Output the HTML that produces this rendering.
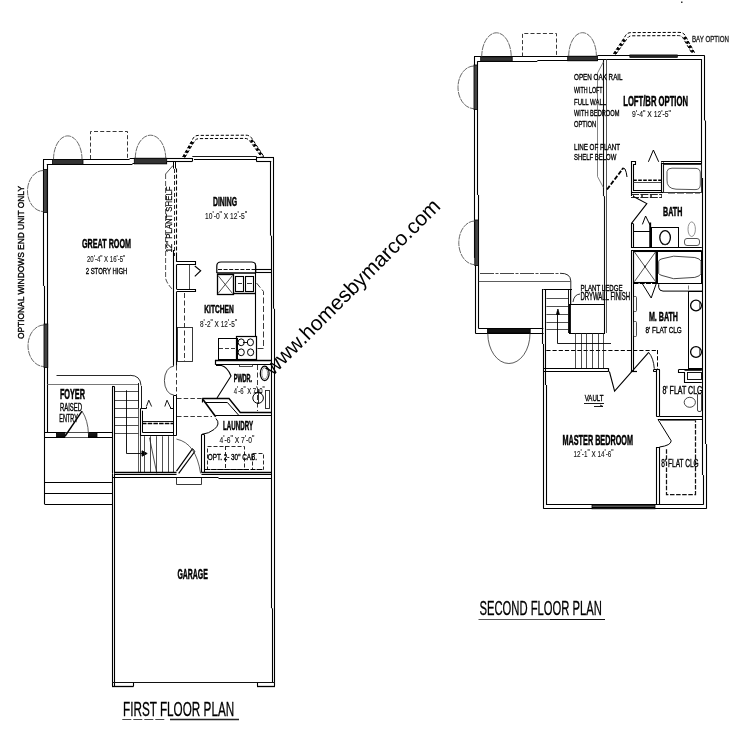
<!DOCTYPE html>
<html><head><meta charset="utf-8"><title>Floor Plan</title>
<style>
html,body{margin:0;padding:0;background:#fff;}
svg{display:block;font-family:"Liberation Sans",sans-serif;will-change:transform;-webkit-font-smoothing:antialiased;}
</style></head><body>
<svg width="754" height="754" viewBox="0 0 754 754">
<rect x="0" y="0" width="754" height="754" fill="#fff"/>
<line x1="43.00" y1="159.50" x2="129.59" y2="159.50" stroke="#000" stroke-width="1.1" />
<line x1="129.59" y1="158.50" x2="166.70" y2="158.50" stroke="#000" stroke-width="1.1" />
<line x1="46.80" y1="164.50" x2="132.44" y2="164.50" stroke="#000" stroke-width="1.1" />
<line x1="132.44" y1="163.50" x2="166.70" y2="163.50" stroke="#000" stroke-width="1.1" />
<line x1="166.70" y1="158.50" x2="192.30" y2="158.50" stroke="#000" stroke-width="1.1" />
<line x1="166.50" y1="163.80" x2="166.50" y2="161.80" stroke="#000" stroke-width="1.0" />
<line x1="166.70" y1="161.50" x2="192.30" y2="161.50" stroke="#000" stroke-width="1.1" />
<line x1="192.50" y1="158.00" x2="192.50" y2="161.50" stroke="#000" stroke-width="1.1" />
<line x1="192.30" y1="156.50" x2="256.20" y2="156.50" stroke="#000" stroke-width="0.9" />
<line x1="194.00" y1="159.50" x2="256.20" y2="159.50" stroke="#000" stroke-width="1.0" />
<line x1="256.50" y1="156.40" x2="256.50" y2="161.10" stroke="#000" stroke-width="1.1" />
<line x1="256.20" y1="157.50" x2="274.00" y2="157.50" stroke="#000" stroke-width="1.1" />
<line x1="256.20" y1="161.50" x2="271.20" y2="161.50" stroke="#000" stroke-width="1.1" />
<line x1="43.50" y1="159.70" x2="43.50" y2="285.93" stroke="#000" stroke-width="1.1" />
<line x1="44.50" y1="285.93" x2="44.50" y2="437.40" stroke="#000" stroke-width="1.1" />
<line x1="47.50" y1="164.50" x2="47.50" y2="432.50" stroke="#000" stroke-width="1.1" />
<line x1="273.50" y1="157.60" x2="273.50" y2="308.71" stroke="#000" stroke-width="1.1" />
<line x1="274.50" y1="308.71" x2="274.50" y2="686.50" stroke="#000" stroke-width="1.1" />
<line x1="270.50" y1="161.10" x2="270.50" y2="235.63" stroke="#000" stroke-width="1.1" />
<line x1="271.50" y1="235.63" x2="271.50" y2="608.27" stroke="#000" stroke-width="1.1" />
<line x1="272.50" y1="608.27" x2="272.50" y2="682.80" stroke="#000" stroke-width="1.1" />
<rect x="52.5" y="159.4" width="30.5" height="4.900000000000006" rx="0" stroke="#000" stroke-width="0.8" fill="#333"/>
<path d="M53.5,159.4 A14.25,23.5 0 0 1 82,159.4" stroke="#444" stroke-width="0.8" fill="none" stroke-dasharray="6 0.8"/>
<rect x="134.3" y="158.2" width="32.39999999999998" height="5.700000000000017" rx="0" stroke="#000" stroke-width="0.8" fill="#333"/>
<path d="M135.3,158.2 A15.199999999999989,23.0 0 0 1 165.7,158.2" stroke="#444" stroke-width="0.8" fill="none" stroke-dasharray="6 0.8"/>
<path d="M90.50,159.00 L90.50,131.50 L127.50,131.50 L127.50,159.00" stroke="#222" stroke-width="0.9" fill="none" stroke-dasharray="4 2.2" />
<rect x="43.5" y="169.5" width="3.700000000000003" height="43.0" rx="0" stroke="#000" stroke-width="0.8" fill="#444"/>
<path d="M43.5,170.5 A16,20.5 0 0 0 43.5,211.5" stroke="#444" stroke-width="0.8" fill="none" stroke-dasharray="6 0.8"/>
<rect x="44" y="324" width="3.799999999999997" height="43.5" rx="0" stroke="#000" stroke-width="0.8" fill="#444"/>
<path d="M44,325 A16,20.75 0 0 0 44,366.5" stroke="#444" stroke-width="0.8" fill="none" stroke-dasharray="6 0.8"/>
<path d="M182.6,157 L192.6,139.3 Q194.3,135.4 198.5,135.4 L246,135.2 Q250,135.2 252,138.6 L264.3,157.2" stroke="#000" stroke-width="1.0" fill="none" stroke-dasharray="3.2 1.8" />
<path d="M185,157.3 L194.6,141 Q196,138.6 199.5,138.6 L245,138.4 Q248,138.4 249.8,141 L261.6,157.2" stroke="#000" stroke-width="1.0" fill="none" stroke-dasharray="3.2 1.8" />
<path d="M183.8,157.2 L193.2,140.5" stroke="#000" stroke-width="2.6" fill="none" stroke-dasharray="2.6 2.4" />
<path d="M251.2,140 L263,157.2" stroke="#000" stroke-width="2.6" fill="none" stroke-dasharray="2.6 2.4" />
<line x1="173.50" y1="161.70" x2="173.50" y2="168.60" stroke="#000" stroke-width="1.0" />
<line x1="175.50" y1="161.70" x2="175.50" y2="168.60" stroke="#000" stroke-width="1.0" />
<line x1="176.50" y1="168.60" x2="176.50" y2="255.00" stroke="#000" stroke-width="1.1" stroke-dasharray="4 2" />
<line x1="174.50" y1="169.00" x2="174.50" y2="256.00" stroke="#111" stroke-width="0.9" stroke-dasharray="4 2" />
<line x1="173.50" y1="250.00" x2="173.50" y2="365.80" stroke="#000" stroke-width="1.1" />
<line x1="176.50" y1="254.80" x2="176.50" y2="261.90" stroke="#000" stroke-width="1.1" />
<line x1="176.50" y1="264.70" x2="176.50" y2="289.00" stroke="#000" stroke-width="1.1" />
<line x1="176.50" y1="291.80" x2="176.50" y2="365.80" stroke="#000" stroke-width="1.1" />
<path d="M173.00,165.50 L165.60,174.00" stroke="#222" stroke-width="0.8" fill="none" />
<path d="M165.6,174 V278 Q166.3,283 173.5,290.6" stroke="#222" stroke-width="0.8" fill="none" stroke-dasharray="5 2" />
<text x="-252.5" y="7" font-size="9.72" textLength="66.0" lengthAdjust="spacingAndGlyphs" fill="#000" transform="rotate(-90) translate(0,164.8)" stroke="#000" stroke-width="0.25">12&quot; PLANT SHELF</text>
<path d="M176.50,261.50 L195.50,261.50 L195.50,264.50 L176.50,264.50" stroke="#000" stroke-width="1.1" fill="none" />
<path d="M176.50,289.50 L195.50,289.50 L195.50,291.50 L176.50,291.50" stroke="#000" stroke-width="1.1" fill="none" />
<line x1="189.50" y1="264.70" x2="189.50" y2="289.00" stroke="#222" stroke-width="0.8" />
<path d="M194.80,266.00 L200.70,270.70 L194.80,276.30" stroke="#000" stroke-width="1.1" fill="none" />
<line x1="184.50" y1="293.00" x2="184.50" y2="361.00" stroke="#222" stroke-width="0.9" stroke-dasharray="5 2.5" />
<rect x="177.5" y="327.5" width="15.0" height="34.0" rx="0" stroke="#222" stroke-width="0.9" fill="none"/>
<path d="M173.8,366.2 A9.4,14.4 0 0 0 173.8,395" stroke="#222" stroke-width="0.8" fill="none" />
<line x1="176.50" y1="366.00" x2="176.50" y2="395.50" stroke="#222" stroke-width="0.9" stroke-dasharray="4.5 2.5" />
<line x1="177.00" y1="398.50" x2="202.00" y2="398.50" stroke="#222" stroke-width="0.9" stroke-dasharray="4.5 2.2" />
<line x1="177.00" y1="416.50" x2="212.00" y2="416.50" stroke="#222" stroke-width="0.9" stroke-dasharray="4.5 2.2" />
<path d="M216.8,273 V266 Q216.8,262 221,262 H251.5 Q255.7,262 255.7,266 V273" stroke="#000" stroke-width="1.2" fill="none" />
<line x1="216.80" y1="273.00" x2="255.70" y2="273.00" stroke="#000" stroke-width="1.6" />
<line x1="218.00" y1="269.50" x2="255.00" y2="269.50" stroke="#111" stroke-width="1.0" stroke-dasharray="4 1.6" />
<rect x="217.5" y="274.5" width="16.0" height="20.0" rx="0" stroke="#000" stroke-width="1.3" fill="none"/>
<line x1="218.00" y1="275.50" x2="232.50" y2="293.50" stroke="#222" stroke-width="0.8" />
<line x1="232.50" y1="275.50" x2="218.00" y2="293.50" stroke="#222" stroke-width="0.8" />
<rect x="235.5" y="276.5" width="8.0" height="15.0" rx="0" stroke="#000" stroke-width="1.1" fill="none"/>
<rect x="245.5" y="276.5" width="8.0" height="15.0" rx="0" stroke="#000" stroke-width="1.1" fill="none"/>
<line x1="238.00" y1="283.50" x2="242.00" y2="283.50" stroke="#000" stroke-width="0.8" />
<line x1="247.00" y1="283.50" x2="252.00" y2="283.50" stroke="#000" stroke-width="0.8" />
<line x1="234.00" y1="293.50" x2="255.70" y2="293.50" stroke="#000" stroke-width="1.4" />
<line x1="255.50" y1="265.00" x2="255.50" y2="337.00" stroke="#000" stroke-width="1.1" />
<line x1="255.70" y1="269.50" x2="271.20" y2="269.50" stroke="#000" stroke-width="1.1" />
<line x1="255.70" y1="272.50" x2="271.20" y2="272.50" stroke="#000" stroke-width="1.1" />
<path d="M256.50,283.00 L263.50,291.50 L263.50,348.50 L256.00,348.50" stroke="#222" stroke-width="0.9" fill="none" stroke-dasharray="6 2.5" />
<rect x="236.5" y="336.5" width="20.0" height="23.0" rx="0" stroke="#000" stroke-width="1.2" fill="none"/>
<ellipse cx="241.2" cy="342.3" rx="3.1" ry="3.4" stroke="#000" stroke-width="1" fill="none"/>
<ellipse cx="250.4" cy="342.3" rx="3.1" ry="3.4" stroke="#000" stroke-width="1" fill="none"/>
<ellipse cx="241.2" cy="352.3" rx="3.1" ry="3.4" stroke="#000" stroke-width="1" fill="none"/>
<ellipse cx="250.6" cy="352.3" rx="3.1" ry="3.4" stroke="#000" stroke-width="1" fill="none"/>
<line x1="243.00" y1="342.50" x2="248.00" y2="342.50" stroke="#000" stroke-width="0.9" />
<rect x="218.5" y="338.5" width="19.0" height="21.0" rx="0" stroke="#000" stroke-width="1.0" fill="none"/>
<line x1="219.00" y1="348.50" x2="236.50" y2="348.50" stroke="#222" stroke-width="0.9" stroke-dasharray="4 2" />
<line x1="215.60" y1="360.40" x2="271.20" y2="360.40" stroke="#000" stroke-width="1.5" />
<line x1="215.60" y1="364.50" x2="271.20" y2="364.50" stroke="#000" stroke-width="1.0" />
<line x1="215.50" y1="359.80" x2="215.50" y2="364.80" stroke="#000" stroke-width="1.2" />
<path d="M216,365.5 H221.5 Q227.5,367 231,376 L217,398" stroke="#000" stroke-width="1.1" fill="none" />
<path d="M202.30,398.50 L229.00,398.50 L240.30,412.50 L271.00,412.50" stroke="#000" stroke-width="1.4" fill="none" />
<line x1="202.50" y1="398.40" x2="202.50" y2="402.50" stroke="#000" stroke-width="1.2" />
<path d="M204.60,402.50 L227.40,402.50 L238.50,415.00" stroke="#000" stroke-width="1.0" fill="none" />
<path d="M203,399.6 L215.7,416.8" stroke="#000" stroke-width="1.6" fill="none" />
<line x1="215.50" y1="415.50" x2="271.00" y2="415.50" stroke="#000" stroke-width="1.0" />
<rect x="239.5" y="364.5" width="13.0" height="2.0" rx="0" stroke="#222" stroke-width="0.8" fill="none"/>
<ellipse cx="264.7" cy="373.4" rx="4.4" ry="7.2" stroke="#000" stroke-width="1.2" fill="none"/>
<ellipse cx="264.7" cy="373.4" rx="2.9" ry="5.6" stroke="#444" stroke-width="0.6" fill="none"/>
<line x1="257.50" y1="365.00" x2="257.50" y2="411.00" stroke="#222" stroke-width="0.9" stroke-dasharray="5 2.5" />
<circle cx="258.1" cy="398" r="5.3" stroke="#000" stroke-width="1" fill="none"/>
<line x1="258.50" y1="389.00" x2="258.50" y2="404.00" stroke="#000" stroke-width="0.8" />
<line x1="254.50" y1="392.50" x2="262.00" y2="392.50" stroke="#000" stroke-width="0.8" />
<rect x="265.5" y="390.5" width="4.0" height="18.0" rx="0" stroke="#222" stroke-width="0.9" fill="none"/>
<path d="M215.9,418.5 Q221,424 214,429.5 Q209,433.5 202,434.3" stroke="#000" stroke-width="1.0" fill="none" />
<line x1="201.50" y1="434.50" x2="201.50" y2="472.50" stroke="#000" stroke-width="1.1" />
<line x1="204.50" y1="434.50" x2="204.50" y2="472.50" stroke="#000" stroke-width="1.1" />
<line x1="201.50" y1="434.50" x2="204.20" y2="434.50" stroke="#000" stroke-width="1.1" />
<line x1="201.50" y1="472.50" x2="271.50" y2="472.50" stroke="#000" stroke-width="1.3" />
<line x1="201.50" y1="474.50" x2="271.50" y2="474.50" stroke="#000" stroke-width="1.0" />
<rect x="207.5" y="446.5" width="37.0" height="23.0" rx="0" stroke="#111" stroke-width="0.9" fill="none" stroke-dasharray="4 2"/>
<line x1="225.50" y1="446.00" x2="225.50" y2="469.50" stroke="#111" stroke-width="0.9" stroke-dasharray="4 2" />
<rect x="252.5" y="453.5" width="11.0" height="16.0" rx="0" stroke="#111" stroke-width="0.9" fill="none" stroke-dasharray="4 2"/>
<line x1="205.00" y1="469.50" x2="262.00" y2="469.50" stroke="#000" stroke-width="1.2" stroke-dasharray="5 1.5" />
<line x1="56.50" y1="375.50" x2="130.00" y2="375.50" stroke="#111" stroke-width="0.9" />
<path d="M130,375.3 Q140.5,375.3 141,385.5" stroke="#111" stroke-width="0.9" fill="none" />
<line x1="47.00" y1="384.50" x2="138.00" y2="384.50" stroke="#555" stroke-width="0.8" />
<line x1="112.50" y1="386.50" x2="112.50" y2="473.50" stroke="#000" stroke-width="1.1" />
<line x1="114.50" y1="386.50" x2="114.50" y2="473.50" stroke="#000" stroke-width="1.1" />
<line x1="112.00" y1="386.50" x2="114.60" y2="386.50" stroke="#000" stroke-width="1.1" />
<line x1="44.40" y1="432.50" x2="112.00" y2="432.50" stroke="#000" stroke-width="1.1" />
<line x1="44.40" y1="437.50" x2="112.00" y2="437.50" stroke="#000" stroke-width="1.1" />
<rect x="56.5" y="433.2" width="8.900000000000006" height="3.8000000000000114" rx="0" stroke="#000" stroke-width="0.8" fill="#111"/>
<rect x="88" y="433.2" width="9" height="3.8000000000000114" rx="0" stroke="#000" stroke-width="0.8" fill="#111"/>
<rect x="65.4" y="432.7" width="22.599999999999994" height="4.800000000000011" rx="0" stroke="#fff" stroke-width="0" fill="#fff"/>
<line x1="65.20" y1="436.00" x2="82.00" y2="411.20" stroke="#000" stroke-width="1.4" />
<path d="M82,411.2 Q88,420 88.5,434.5" stroke="#333" stroke-width="0.8" fill="none" />
<line x1="65.40" y1="437.50" x2="88.00" y2="437.50" stroke="#444" stroke-width="0.8" />
<line x1="44.50" y1="437.00" x2="44.50" y2="504.20" stroke="#000" stroke-width="1.1" />
<line x1="44.60" y1="482.50" x2="112.00" y2="482.50" stroke="#000" stroke-width="1.2" />
<line x1="44.60" y1="493.50" x2="112.00" y2="493.50" stroke="#000" stroke-width="1.2" />
<line x1="44.60" y1="504.50" x2="112.00" y2="504.50" stroke="#000" stroke-width="1.2" />
<line x1="115.00" y1="391.50" x2="138.60" y2="391.50" stroke="#222" stroke-width="0.8" />
<line x1="115.00" y1="400.50" x2="138.60" y2="400.50" stroke="#222" stroke-width="0.8" />
<line x1="115.00" y1="408.50" x2="138.60" y2="408.50" stroke="#222" stroke-width="0.8" />
<line x1="115.00" y1="417.50" x2="138.60" y2="417.50" stroke="#222" stroke-width="0.8" />
<line x1="115.00" y1="425.50" x2="138.60" y2="425.50" stroke="#222" stroke-width="0.8" />
<line x1="115.00" y1="433.50" x2="138.60" y2="433.50" stroke="#222" stroke-width="0.8" />
<line x1="138.50" y1="383.00" x2="138.50" y2="408.50" stroke="#000" stroke-width="0.9" />
<line x1="141.50" y1="386.00" x2="141.50" y2="408.50" stroke="#000" stroke-width="0.9" />
<line x1="138.50" y1="408.50" x2="138.50" y2="472.00" stroke="#333" stroke-width="0.8" />
<path d="M126.50,390.30 L126.50,453.50 L143.00,453.50" stroke="#000" stroke-width="0.9" fill="none" />
<path d="M142.00,450.80 L147.20,453.50 L142.00,456.20 Z" stroke="#000" stroke-width="0.9" fill="#000" />
<path d="M140.50,408.50 L140.50,435.50 L176.50,435.50" stroke="#000" stroke-width="1.1" fill="none" />
<path d="M142.50,410.70 L142.50,432.50 L173.50,432.50" stroke="#000" stroke-width="1.0" fill="none" />
<path d="M140.50,408.50 L146.50,408.50 L146.50,407.00" stroke="#000" stroke-width="1.0" fill="none" />
<path d="M146.40,406.50 L148.80,400.20 L151.60,406.50" stroke="#000" stroke-width="0.9" fill="none" />
<path d="M173.50,408.50 L170.50,408.50 L170.50,407.00" stroke="#000" stroke-width="1.0" fill="none" />
<path d="M164.80,406.50 L167.00,400.20 L170.20,407.00" stroke="#000" stroke-width="0.9" fill="none" />
<line x1="142.00" y1="421.50" x2="173.50" y2="421.50" stroke="#000" stroke-width="0.9" />
<line x1="142.00" y1="423.50" x2="173.50" y2="423.50" stroke="#000" stroke-width="1.4" stroke-dasharray="4.5 1.2" />
<line x1="173.50" y1="395.50" x2="173.50" y2="435.50" stroke="#000" stroke-width="1.0" />
<line x1="176.50" y1="395.50" x2="176.50" y2="435.50" stroke="#000" stroke-width="1.0" />
<line x1="173.60" y1="395.50" x2="176.50" y2="395.50" stroke="#000" stroke-width="1.0" />
<line x1="144.50" y1="436.20" x2="144.50" y2="472.50" stroke="#222" stroke-width="0.8" />
<line x1="150.50" y1="436.20" x2="150.50" y2="472.50" stroke="#222" stroke-width="0.8" />
<line x1="156.50" y1="436.20" x2="156.50" y2="472.50" stroke="#222" stroke-width="0.8" />
<line x1="162.50" y1="436.20" x2="162.50" y2="472.50" stroke="#222" stroke-width="0.8" />
<line x1="168.50" y1="436.20" x2="168.50" y2="472.50" stroke="#222" stroke-width="0.8" />
<line x1="173.50" y1="436.20" x2="173.50" y2="472.50" stroke="#222" stroke-width="0.8" />
<line x1="140.50" y1="435.50" x2="140.50" y2="472.50" stroke="#222" stroke-width="0.9" />
<line x1="149.50" y1="437.70" x2="156.80" y2="473.40" stroke="#222" stroke-width="0.8" />
<line x1="114.60" y1="472.50" x2="176.50" y2="472.50" stroke="#000" stroke-width="1.3" />
<line x1="114.60" y1="474.50" x2="176.50" y2="474.50" stroke="#000" stroke-width="1.0" />
<path d="M176.50,471.20 L192.60,448.60" stroke="#000" stroke-width="1.2" fill="none" />
<path d="M178.70,473.40 L194.80,451.50" stroke="#000" stroke-width="1.2" fill="none" />
<path d="M192.60,448.60 L194.80,451.50" stroke="#000" stroke-width="1.0" fill="none" />
<path d="M176.5,439.1 Q196,443 200.6,473.4" stroke="#333" stroke-width="0.8" fill="none" />
<path d="M176.50,477.50 L176.50,484.50 L201.50,484.50 L201.50,478.00" stroke="#222" stroke-width="0.9" fill="none" />
<line x1="112.50" y1="473.50" x2="112.50" y2="686.50" stroke="#000" stroke-width="1.1" />
<line x1="114.50" y1="473.50" x2="114.50" y2="686.50" stroke="#000" stroke-width="1.1" />
<line x1="112.00" y1="477.50" x2="218.53" y2="477.50" stroke="#000" stroke-width="1.0" />
<line x1="218.53" y1="478.50" x2="271.80" y2="478.50" stroke="#000" stroke-width="1.0" />
<line x1="112.00" y1="682.50" x2="275.00" y2="682.50" stroke="#111" stroke-width="1.0" />
<line x1="112.00" y1="686.50" x2="133.50" y2="686.50" stroke="#000" stroke-width="1.3" />
<line x1="257.00" y1="686.50" x2="275.00" y2="686.50" stroke="#000" stroke-width="1.3" />
<line x1="133.50" y1="682.80" x2="133.50" y2="686.50" stroke="#000" stroke-width="1.1" />
<line x1="257.50" y1="682.80" x2="257.50" y2="686.50" stroke="#000" stroke-width="1.1" />
<text x="82" y="248" font-size="13.33" textLength="49.0" lengthAdjust="spacingAndGlyphs" fill="#000" font-weight="bold" stroke="#000" stroke-width="0.5">GREAT ROOM</text>
<text x="87" y="262.4" font-size="8.75" textLength="38.2" lengthAdjust="spacingAndGlyphs" fill="#111" stroke="#111" stroke-width="0.12">20<tspan dy="-1.7">'</tspan><tspan dy="1.7">-</tspan>4<tspan dy="-1.7">&quot;</tspan><tspan dy="1.7"> </tspan>X 16<tspan dy="-1.7">'</tspan><tspan dy="1.7">-</tspan>5<tspan dy="-1.7">&quot;</tspan></text>
<text x="85.7" y="273.7" font-size="9.31" textLength="41.6" lengthAdjust="spacingAndGlyphs" fill="#000" stroke="#000" stroke-width="0.38">2 STORY HIGH</text>
<text x="213" y="206.4" font-size="12.50" textLength="24.0" lengthAdjust="spacingAndGlyphs" fill="#000" font-weight="bold" stroke="#000" stroke-width="0.5">DINING</text>
<text x="205" y="218.8" font-size="8.75" textLength="42.0" lengthAdjust="spacingAndGlyphs" fill="#111" stroke="#111" stroke-width="0.12">10<tspan dy="-1.7">'</tspan><tspan dy="1.7">-</tspan>0<tspan dy="-1.7">&quot;</tspan><tspan dy="1.7"> </tspan>X 12<tspan dy="-1.7">'</tspan><tspan dy="1.7">-</tspan>5<tspan dy="-1.7">&quot;</tspan></text>
<text x="204.3" y="313" font-size="11.25" textLength="29.4" lengthAdjust="spacingAndGlyphs" fill="#000" font-weight="bold" stroke="#000" stroke-width="0.5">KITCHEN</text>
<text x="200" y="326.9" font-size="8.75" textLength="37.0" lengthAdjust="spacingAndGlyphs" fill="#111" stroke="#111" stroke-width="0.12">8<tspan dy="-1.7">'</tspan><tspan dy="1.7">-</tspan>2<tspan dy="-1.7">&quot;</tspan><tspan dy="1.7"> </tspan>X 12<tspan dy="-1.7">'</tspan><tspan dy="1.7">-</tspan>5<tspan dy="-1.7">&quot;</tspan></text>
<text x="233.7" y="382.3" font-size="10.56" textLength="18.4" lengthAdjust="spacingAndGlyphs" fill="#000" font-weight="bold" stroke="#000" stroke-width="0.5">PWDR.</text>
<text x="233.7" y="393.6" font-size="8.75" textLength="31.0" lengthAdjust="spacingAndGlyphs" fill="#111" stroke="#111" stroke-width="0.12">4<tspan dy="-1.7">'</tspan><tspan dy="1.7">-</tspan>6<tspan dy="-1.7">&quot;</tspan><tspan dy="1.7"> </tspan>X 7<tspan dy="-1.7">'</tspan><tspan dy="1.7">-</tspan>0<tspan dy="-1.7">&quot;</tspan></text>
<text x="223" y="430.3" font-size="12.22" textLength="30.0" lengthAdjust="spacingAndGlyphs" fill="#000" font-weight="bold" stroke="#000" stroke-width="0.5">LAUNDRY</text>
<text x="219.6" y="442.5" font-size="8.75" textLength="34.8" lengthAdjust="spacingAndGlyphs" fill="#111" stroke="#111" stroke-width="0.12">4<tspan dy="-1.7">'</tspan><tspan dy="1.7">-</tspan>6<tspan dy="-1.7">&quot;</tspan><tspan dy="1.7"> </tspan>X 7<tspan dy="-1.7">'</tspan><tspan dy="1.7">-</tspan>0<tspan dy="-1.7">&quot;</tspan></text>
<text x="207.8" y="459.6" font-size="9.17" textLength="49.2" lengthAdjust="spacingAndGlyphs" fill="#000" stroke="#000" stroke-width="0.38">OPT. 2- 30&quot; CAB.</text>
<text x="59.9" y="398.5" font-size="13.75" textLength="25.1" lengthAdjust="spacingAndGlyphs" fill="#000" font-weight="bold" stroke="#000" stroke-width="0.5">FOYER</text>
<text x="59.9" y="410.6" font-size="10.00" textLength="22.1" lengthAdjust="spacingAndGlyphs" fill="#000" stroke="#000" stroke-width="0.38">RAISED</text>
<text x="59.3" y="421.7" font-size="10.14" textLength="18.5" lengthAdjust="spacingAndGlyphs" fill="#000" stroke="#000" stroke-width="0.38">ENTRY</text>
<text x="177.4" y="579.3" font-size="14.72" textLength="30.5" lengthAdjust="spacingAndGlyphs" fill="#000" font-weight="bold" stroke="#000" stroke-width="0.5">GARAGE</text>
<text x="123" y="715.8" font-size="20.56" textLength="111.2" lengthAdjust="spacingAndGlyphs" fill="#000" stroke="#000" stroke-width="0.3">FIRST FLOOR PLAN</text>
<line x1="122.30" y1="719.50" x2="166.00" y2="719.50" stroke="#333" stroke-width="0.9" stroke-dasharray="9 2" />
<line x1="170.00" y1="719.50" x2="239.00" y2="719.50" stroke="#222" stroke-width="1.4" />
<text x="-339" y="6.6" font-size="9.17" textLength="153.0" lengthAdjust="spacingAndGlyphs" fill="#000" transform="rotate(-90) translate(0,17.5)" stroke="#000" stroke-width="0.38">OPTIONAL WINDOWS END UNIT ONLY</text>
<line x1="474.00" y1="56.50" x2="597.40" y2="56.50" stroke="#000" stroke-width="1.1" />
<line x1="477.30" y1="61.50" x2="537.35" y2="61.50" stroke="#000" stroke-width="1.1" />
<line x1="537.35" y1="60.50" x2="597.40" y2="60.50" stroke="#000" stroke-width="1.1" />
<line x1="597.40" y1="55.50" x2="704.80" y2="55.50" stroke="#000" stroke-width="1.1" />
<line x1="597.50" y1="60.70" x2="597.50" y2="59.50" stroke="#000" stroke-width="1.0" />
<line x1="597.40" y1="59.50" x2="701.80" y2="59.50" stroke="#000" stroke-width="1.1" />
<rect x="629.8" y="54.9" width="47.700000000000045" height="2.700000000000003" rx="0" stroke="#000" stroke-width="0.6" fill="#222"/>
<line x1="474.50" y1="57.00" x2="474.50" y2="257.87" stroke="#000" stroke-width="1.1" />
<line x1="475.50" y1="257.87" x2="475.50" y2="333.20" stroke="#000" stroke-width="1.1" />
<line x1="477.50" y1="61.30" x2="477.50" y2="194.95" stroke="#000" stroke-width="1.1" />
<line x1="478.50" y1="194.95" x2="478.50" y2="328.60" stroke="#000" stroke-width="1.1" />
<line x1="704.50" y1="55.80" x2="704.50" y2="120.51" stroke="#000" stroke-width="1.1" />
<line x1="705.50" y1="120.51" x2="705.50" y2="444.09" stroke="#000" stroke-width="1.1" />
<line x1="706.50" y1="444.09" x2="706.50" y2="508.80" stroke="#000" stroke-width="1.1" />
<line x1="701.50" y1="59.20" x2="701.50" y2="178.03" stroke="#000" stroke-width="1.1" />
<line x1="702.50" y1="178.03" x2="702.50" y2="475.09" stroke="#000" stroke-width="1.1" />
<line x1="703.50" y1="475.09" x2="703.50" y2="504.80" stroke="#000" stroke-width="1.1" />
<rect x="480.7" y="56.8" width="31.500000000000057" height="4.400000000000006" rx="0" stroke="#000" stroke-width="0.8" fill="#333"/>
<path d="M481.7,56.8 A14.750000000000028,24.0 0 0 1 511.20000000000005,56.8" stroke="#444" stroke-width="0.8" fill="none" stroke-dasharray="6 0.8"/>
<rect x="567.7" y="56.2" width="29.699999999999932" height="4.599999999999994" rx="0" stroke="#000" stroke-width="0.8" fill="#333"/>
<path d="M568.7,56.2 A13.849999999999966,23.5 0 0 1 596.4,56.2" stroke="#444" stroke-width="0.8" fill="none" stroke-dasharray="6 0.8"/>
<path d="M522.50,56.50 L522.50,33.50 L556.50,33.50 L556.50,56.50" stroke="#222" stroke-width="0.9" fill="none" stroke-dasharray="4 2.2" />
<rect x="474" y="65" width="3.5" height="44.599999999999994" rx="0" stroke="#000" stroke-width="0.8" fill="#444"/>
<path d="M474,66 A16,21.299999999999997 0 0 0 474,108.6" stroke="#444" stroke-width="0.8" fill="none" stroke-dasharray="6 0.8"/>
<rect x="474.8" y="220" width="3.599999999999966" height="45.60000000000002" rx="0" stroke="#000" stroke-width="0.8" fill="#444"/>
<path d="M474.8,221 A16,21.80000000000001 0 0 0 474.8,264.6" stroke="#444" stroke-width="0.8" fill="none" stroke-dasharray="6 0.8"/>
<path d="M613.4,53.8 L625.3,36 Q627,32.6 631,32.6 L679,32.4 Q683.5,32.4 685.2,35.5 L694.8,53" stroke="#000" stroke-width="1.0" fill="none" stroke-dasharray="3.2 1.8" />
<path d="M616,54 L627.6,38 Q629,35.8 632,35.8 L678.5,35.6 Q681.6,35.6 683,38 L692,53.5" stroke="#000" stroke-width="1.0" fill="none" stroke-dasharray="3.2 1.8" />
<path d="M614.6,54 L626,37.6" stroke="#000" stroke-width="2.6" fill="none" stroke-dasharray="2.6 2.4" />
<path d="M684.4,37 L693.6,53.4" stroke="#000" stroke-width="2.6" fill="none" stroke-dasharray="2.6 2.4" />
<line x1="603.50" y1="59.30" x2="603.50" y2="196.15" stroke="#111" stroke-width="1.1" />
<line x1="604.50" y1="196.15" x2="604.50" y2="333.00" stroke="#111" stroke-width="1.1" />
<line x1="606.50" y1="59.30" x2="606.50" y2="333.00" stroke="#444" stroke-width="0.9" />
<path d="M603.40,62.00 L597.50,73.00 L597.50,176.50 L603.40,187.50" stroke="#666" stroke-width="0.8" fill="none" />
<line x1="661.10" y1="161.50" x2="701.80" y2="161.50" stroke="#000" stroke-width="1.0" />
<line x1="661.10" y1="163.50" x2="701.80" y2="163.50" stroke="#000" stroke-width="1.0" />
<path d="M631.50,196.00 L631.50,161.50 L635.50,161.50 L635.50,164.50 L633.50,164.50 L633.50,190.50 L661.10,190.50" stroke="#000" stroke-width="1.1" fill="none" />
<path d="M631.00,192.50 L663.00,192.50" stroke="#000" stroke-width="1.1" fill="none" />
<line x1="633.20" y1="182.50" x2="661.00" y2="182.50" stroke="#222" stroke-width="0.8" />
<line x1="633.20" y1="180.20" x2="661.00" y2="180.20" stroke="#000" stroke-width="1.5" stroke-dasharray="3.6 1.4" />
<line x1="661.50" y1="162.50" x2="661.50" y2="192.50" stroke="#000" stroke-width="1.1" />
<line x1="663.50" y1="162.50" x2="663.50" y2="192.50" stroke="#000" stroke-width="1.1" />
<path d="M648.40,161.80 L653.40,150.00 L658.70,161.80" stroke="#000" stroke-width="1.0" fill="none" />
<line x1="631.00" y1="194.50" x2="662.00" y2="194.50" stroke="#111" stroke-width="0.9" stroke-dasharray="8 1.4" />
<line x1="631.00" y1="197.50" x2="662.00" y2="197.50" stroke="#111" stroke-width="0.9" stroke-dasharray="8 1.4" />
<line x1="633.50" y1="194.00" x2="633.50" y2="197.20" stroke="#222" stroke-width="0.8" />
<line x1="641.50" y1="194.00" x2="641.50" y2="197.20" stroke="#222" stroke-width="0.8" />
<line x1="642.50" y1="194.00" x2="642.50" y2="197.20" stroke="#222" stroke-width="0.8" />
<line x1="650.50" y1="194.00" x2="650.50" y2="197.20" stroke="#222" stroke-width="0.8" />
<line x1="651.50" y1="194.00" x2="651.50" y2="197.20" stroke="#222" stroke-width="0.8" />
<line x1="661.50" y1="194.00" x2="661.50" y2="197.20" stroke="#222" stroke-width="0.8" />
<rect x="663.5" y="164.5" width="38.0" height="28.0" rx="0" stroke="#222" stroke-width="0.9" fill="none"/>
<path d="M667,171.5 Q667.5,168 672,168.2 L696,168.4 Q700.3,168.6 700.3,173 V185 Q700.2,189.8 695,189.6 L676,189.2 Q666.5,188.5 667,180 Z" stroke="#444" stroke-width="0.9" fill="none" />
<line x1="668.00" y1="193.50" x2="700.00" y2="193.50" stroke="#777" stroke-width="0.8" stroke-dasharray="7 2" />
<path d="M607,189.5 L623.3,168" stroke="#000" stroke-width="1.8" fill="none" stroke-dasharray="4.5 1.8" />
<path d="M621.5,170 Q623.5,166.5 625,169 Q626.5,172 627,177" stroke="#000" stroke-width="1.0" fill="none" />
<path d="M633.00,196.30 L646.80,203.60 L631.30,223.60" stroke="#000" stroke-width="1.1" fill="none" />
<line x1="631.50" y1="223.60" x2="631.50" y2="248.00" stroke="#000" stroke-width="1.1" />
<line x1="633.50" y1="223.60" x2="633.50" y2="248.00" stroke="#000" stroke-width="1.1" />
<line x1="631.00" y1="223.50" x2="633.20" y2="223.50" stroke="#000" stroke-width="1.1" />
<path d="M633.20,231.50 L650.00,231.50" stroke="#000" stroke-width="1.0" fill="none" />
<path d="M642.40,224.40 L645.60,216.00 L650.00,225.00" stroke="#000" stroke-width="1.0" fill="none" />
<line x1="650.20" y1="222.50" x2="650.20" y2="247.00" stroke="#000" stroke-width="1.9" />
<rect x="651.5" y="227.5" width="27.0" height="20.0" rx="0" stroke="#000" stroke-width="1.0" fill="none"/>
<ellipse cx="665.1" cy="237.6" rx="5.3" ry="7" stroke="#000" stroke-width="1.3" fill="none"/>
<line x1="662.50" y1="244.50" x2="667.50" y2="244.50" stroke="#333" stroke-width="0.8" />
<ellipse cx="691.7" cy="229.2" rx="3.7" ry="7.3" stroke="#888" stroke-width="0.9" fill="none"/>
<rect x="684.5" y="238.5" width="15.0" height="7.0" rx="2.5" stroke="#444" stroke-width="0.9" fill="none"/>
<line x1="631.00" y1="247.50" x2="701.80" y2="247.50" stroke="#000" stroke-width="1.1" />
<line x1="631.00" y1="250.50" x2="701.80" y2="250.50" stroke="#000" stroke-width="1.1" />
<rect x="633.5" y="251.5" width="23.0" height="31.0" rx="0" stroke="#000" stroke-width="1.1" fill="none"/>
<line x1="656.40" y1="251.00" x2="656.40" y2="283.00" stroke="#000" stroke-width="1.8" />
<line x1="634.50" y1="252.00" x2="655.50" y2="281.50" stroke="#222" stroke-width="0.8" />
<line x1="655.50" y1="252.00" x2="634.50" y2="281.50" stroke="#222" stroke-width="0.8" />
<circle cx="645" cy="266.3" r="0.9" fill="#222"/>
<rect x="657.5" y="251.5" width="44.0" height="32.0" rx="0" stroke="#000" stroke-width="1.0" fill="none"/>
<path d="M658.7,261.2 Q659,259.5 662,258.8 L673.6,256.2 L694.8,257.5 Q700.5,258.8 701,261.2 V273.7 Q700.5,276 694.8,277.4 L673.6,278.7 L662,275.5 Q659,274.5 658.7,273.7 Z" stroke="#333" stroke-width="0.9" fill="none" />
<path d="M658.7,284.3 V287.5 Q659.2,291 663,291.1 H702" stroke="#000" stroke-width="1.0" fill="none" />
<line x1="688.50" y1="285.50" x2="688.50" y2="289.50" stroke="#555" stroke-width="0.8" />
<path d="M642.40,283.80 L651.20,298.00 L656.20,283.80" stroke="#000" stroke-width="1.0" fill="none" />
<line x1="633.50" y1="283.00" x2="657.00" y2="283.00" stroke="#000" stroke-width="2.0" stroke-dasharray="5 1.2" />
<line x1="631.50" y1="250.50" x2="631.50" y2="371.00" stroke="#000" stroke-width="1.1" />
<line x1="633.50" y1="250.50" x2="633.50" y2="371.00" stroke="#000" stroke-width="1.1" />
<rect x="633.5" y="296.5" width="3.0" height="15.0" rx="1" stroke="#222" stroke-width="0.8" fill="none"/>
<rect x="633.5" y="321.5" width="3.0" height="15.0" rx="1" stroke="#222" stroke-width="0.8" fill="none"/>
<rect x="688.5" y="291.5" width="14.0" height="77.0" rx="0" stroke="#000" stroke-width="1.0" fill="none"/>
<circle cx="696" cy="305.5" r="5.4" stroke="#000" stroke-width="1.3" fill="none"/>
<circle cx="696" cy="352" r="5.4" stroke="#000" stroke-width="1.3" fill="none"/>
<line x1="699.50" y1="301.00" x2="699.50" y2="310.00" stroke="#333" stroke-width="0.7" />
<line x1="699.50" y1="347.50" x2="699.50" y2="356.50" stroke="#333" stroke-width="0.7" />
<line x1="546.30" y1="350.50" x2="657.20" y2="350.50" stroke="#000" stroke-width="1.0" stroke-dasharray="4.2 2" />
<line x1="657.50" y1="350.00" x2="657.50" y2="370.00" stroke="#000" stroke-width="1.0" stroke-dasharray="4.2 2" />
<path d="M609.40,371.50 L614.60,391.20 L648.70,352.40" stroke="#000" stroke-width="1.1" fill="none" />
<path d="M648.7,352.4 Q653.5,358 654.3,368.7" stroke="#000" stroke-width="0.9" fill="none" />
<line x1="630.80" y1="371.50" x2="637.00" y2="371.50" stroke="#000" stroke-width="1.2" />
<line x1="656.50" y1="369.50" x2="656.50" y2="416.00" stroke="#000" stroke-width="1.1" />
<line x1="659.50" y1="369.50" x2="659.50" y2="416.00" stroke="#000" stroke-width="1.1" />
<line x1="653.70" y1="369.50" x2="659.80" y2="369.50" stroke="#000" stroke-width="1.1" />
<line x1="653.50" y1="369.50" x2="653.50" y2="371.80" stroke="#000" stroke-width="1.0" />
<line x1="653.70" y1="371.50" x2="656.20" y2="371.50" stroke="#000" stroke-width="1.0" />
<line x1="659.80" y1="416.50" x2="702.80" y2="416.50" stroke="#000" stroke-width="1.1" />
<line x1="656.20" y1="416.50" x2="659.80" y2="416.50" stroke="#000" stroke-width="1.0" />
<line x1="658.00" y1="419.50" x2="702.80" y2="419.50" stroke="#000" stroke-width="1.1" />
<path d="M678.70,369.50 L701.80,369.50 M678.50,369.50 L678.50,372.50 L684.50,372.50 L684.50,382.50 L701.80,382.50" stroke="#000" stroke-width="1.1" fill="none" />
<rect x="687.5" y="372.5" width="14.0" height="7.0" rx="0" stroke="#000" stroke-width="0.9" fill="none"/>
<line x1="684.50" y1="370.00" x2="701.80" y2="370.00" stroke="#000" stroke-width="1.6" />
<ellipse cx="689.8" cy="402.3" rx="5.6" ry="5" stroke="#333" stroke-width="0.9" fill="none"/>
<rect x="697.5" y="393.5" width="4.0" height="18.0" rx="1.5" stroke="#333" stroke-width="0.9" fill="none"/>
<path d="M658,419.5 L671.2,440.8 Q671,445.5 659.5,447" stroke="#000" stroke-width="1.0" fill="none" />
<line x1="656.50" y1="447.00" x2="656.50" y2="505.00" stroke="#000" stroke-width="1.1" />
<line x1="659.50" y1="447.00" x2="659.50" y2="505.00" stroke="#000" stroke-width="1.1" />
<line x1="656.50" y1="447.50" x2="659.60" y2="447.50" stroke="#000" stroke-width="1.0" />
<path d="M666.50,449.20 L666.50,494.50 L695.50,494.50 L695.50,420.20" stroke="#111" stroke-width="1.25" fill="none" stroke-dasharray="4.5 1.6" />
<line x1="660.00" y1="420.50" x2="696.00" y2="420.50" stroke="#444" stroke-width="0.8" />
<line x1="542.50" y1="289.00" x2="542.50" y2="343.95" stroke="#000" stroke-width="1.1" />
<line x1="543.50" y1="343.95" x2="543.50" y2="508.80" stroke="#000" stroke-width="1.1" />
<line x1="545.50" y1="289.00" x2="545.50" y2="385.00" stroke="#000" stroke-width="1.1" />
<line x1="546.50" y1="385.00" x2="546.50" y2="505.00" stroke="#000" stroke-width="1.1" />
<line x1="546.50" y1="504.50" x2="703.10" y2="504.50" stroke="#000" stroke-width="1.1" />
<line x1="543.60" y1="508.50" x2="706.20" y2="508.50" stroke="#000" stroke-width="1.1" />
<rect x="592" y="505.2" width="63" height="3.6000000000000227" rx="0" stroke="#000" stroke-width="0.8" fill="#555"/>
<line x1="592.00" y1="507.50" x2="655.00" y2="507.50" stroke="#000" stroke-width="1.2" />
<line x1="480.00" y1="273.50" x2="560.00" y2="273.50" stroke="#333" stroke-width="0.9" stroke-dasharray="14 1.5 3 1.5" />
<path d="M560,273.3 Q570.5,273 570.8,281 V304" stroke="#111" stroke-width="0.9" fill="none" />
<line x1="478.60" y1="281.50" x2="570.50" y2="281.50" stroke="#333" stroke-width="0.8" />
<line x1="478.60" y1="328.50" x2="543.30" y2="328.50" stroke="#000" stroke-width="1.1" />
<line x1="475.30" y1="333.50" x2="543.60" y2="333.50" stroke="#000" stroke-width="1.2" />
<rect x="487.4" y="328.4" width="42.80000000000007" height="4.600000000000023" rx="0" stroke="#000" stroke-width="0.8" fill="#111"/>
<path d="M487.8,333.5 A21.1,30 0 0 0 530,333.5" stroke="#333" stroke-width="0.8" fill="none" />
<line x1="543.30" y1="289.50" x2="572.00" y2="289.50" stroke="#000" stroke-width="1.0" />
<line x1="546.40" y1="298.50" x2="568.40" y2="298.50" stroke="#222" stroke-width="0.8" />
<line x1="546.40" y1="306.50" x2="568.40" y2="306.50" stroke="#222" stroke-width="0.8" />
<line x1="546.40" y1="314.50" x2="568.40" y2="314.50" stroke="#222" stroke-width="0.8" />
<line x1="546.40" y1="322.50" x2="568.40" y2="322.50" stroke="#222" stroke-width="0.8" />
<line x1="546.40" y1="329.50" x2="568.40" y2="329.50" stroke="#222" stroke-width="0.8" />
<line x1="568.50" y1="289.00" x2="568.50" y2="333.00" stroke="#000" stroke-width="0.9" />
<line x1="570.50" y1="289.00" x2="570.50" y2="333.00" stroke="#000" stroke-width="0.9" />
<rect x="569.5" y="304.5" width="35.0" height="29.0" rx="0" stroke="#000" stroke-width="1.0" fill="none"/>
<line x1="575.50" y1="333.20" x2="575.50" y2="368.50" stroke="#222" stroke-width="0.8" />
<line x1="581.50" y1="333.20" x2="581.50" y2="368.50" stroke="#222" stroke-width="0.8" />
<line x1="586.50" y1="333.20" x2="586.50" y2="368.50" stroke="#222" stroke-width="0.8" />
<line x1="592.50" y1="333.20" x2="592.50" y2="368.50" stroke="#222" stroke-width="0.8" />
<line x1="598.50" y1="333.20" x2="598.50" y2="368.50" stroke="#222" stroke-width="0.8" />
<line x1="603.50" y1="333.20" x2="603.50" y2="368.50" stroke="#222" stroke-width="0.8" />
<path d="M557.50,311.00 L557.50,343.50 L611.00,343.50" stroke="#000" stroke-width="0.9" fill="none" />
<path d="M556.40,314.50 L557.90,309.00 L559.40,314.50 Z" stroke="#000" stroke-width="0.8" fill="#000" />
<line x1="543.30" y1="368.50" x2="608.70" y2="368.50" stroke="#000" stroke-width="1.2" />
<line x1="543.30" y1="371.50" x2="608.70" y2="371.50" stroke="#000" stroke-width="1.2" />
<line x1="608.50" y1="368.30" x2="608.50" y2="371.60" stroke="#000" stroke-width="1.2" />
<path d="M573,302 Q574,294.5 580,294" stroke="#000" stroke-width="0.8" fill="none" />
<text x="574" y="80.1" font-size="9.86" textLength="48.6" lengthAdjust="spacingAndGlyphs" fill="#000" stroke="#000" stroke-width="0.38">OPEN OAK RAIL</text>
<text x="574" y="92.7" font-size="9.86" textLength="28.5" lengthAdjust="spacingAndGlyphs" fill="#000" stroke="#000" stroke-width="0.38">WITH LOFT</text>
<text x="574" y="104.6" font-size="9.86" textLength="32.2" lengthAdjust="spacingAndGlyphs" fill="#000" stroke="#000" stroke-width="0.38">FULL WALL</text>
<text x="574" y="115.9" font-size="9.86" textLength="45.4" lengthAdjust="spacingAndGlyphs" fill="#000" stroke="#000" stroke-width="0.38">WITH BEDROOM</text>
<text x="574" y="127.3" font-size="9.86" textLength="22.2" lengthAdjust="spacingAndGlyphs" fill="#000" stroke="#000" stroke-width="0.38">OPTION</text>
<text x="574" y="150" font-size="9.86" textLength="46.0" lengthAdjust="spacingAndGlyphs" fill="#000" stroke="#000" stroke-width="0.38">LINE OF PLANT</text>
<text x="574" y="160.3" font-size="9.86" textLength="42.3" lengthAdjust="spacingAndGlyphs" fill="#000" stroke="#000" stroke-width="0.38">SHELF BELOW</text>
<text x="692" y="42.3" font-size="9.72" textLength="37.0" lengthAdjust="spacingAndGlyphs" fill="#222" stroke="#222" stroke-width="0.38">BAY OPTION</text>
<text x="623.2" y="105.8" font-size="13.89" textLength="64.8" lengthAdjust="spacingAndGlyphs" fill="#000" font-weight="bold" stroke="#000" stroke-width="0.5">LOFT/BR OPTION</text>
<text x="632" y="117.2" font-size="8.75" textLength="39.0" lengthAdjust="spacingAndGlyphs" fill="#111" stroke="#111" stroke-width="0.12">9<tspan dy="-1.7">'</tspan><tspan dy="1.7">-</tspan>4<tspan dy="-1.7">&quot;</tspan><tspan dy="1.7"> </tspan>X 12<tspan dy="-1.7">'</tspan><tspan dy="1.7">-</tspan>5<tspan dy="-1.7">&quot;</tspan></text>
<text x="663" y="215.5" font-size="12.36" textLength="19.3" lengthAdjust="spacingAndGlyphs" fill="#000" font-weight="bold" stroke="#000" stroke-width="0.5">BATH</text>
<text x="648.9" y="321" font-size="12.92" textLength="29.1" lengthAdjust="spacingAndGlyphs" fill="#000" font-weight="bold" stroke="#000" stroke-width="0.5">M. BATH</text>
<text x="645.6" y="333" font-size="9.72" textLength="36.1" lengthAdjust="spacingAndGlyphs" fill="#000" stroke="#000" stroke-width="0.38">8' FLAT CLG</text>
<text x="662.4" y="394.2" font-size="10.28" textLength="40.2" lengthAdjust="spacingAndGlyphs" fill="#000" stroke="#000" stroke-width="0.38">8' FLAT CLG</text>
<text x="661.3" y="467.4" font-size="11.25" textLength="37.4" lengthAdjust="spacingAndGlyphs" fill="#000" stroke="#000" stroke-width="0.38">8' FLAT CLG</text>
<text x="580.4" y="290.7" font-size="9.86" textLength="42.1" lengthAdjust="spacingAndGlyphs" fill="#000" stroke="#000" stroke-width="0.38">PLANT LEDGE</text>
<text x="580.4" y="300" font-size="10.14" textLength="49.6" lengthAdjust="spacingAndGlyphs" fill="#000" stroke="#000" stroke-width="0.38">DRYWALL FINISH</text>
<text x="584.7" y="401" font-size="9.72" textLength="18.8" lengthAdjust="spacingAndGlyphs" fill="#000" stroke="#000" stroke-width="0.38">VAULT</text>
<line x1="584.00" y1="403.50" x2="604.00" y2="403.50" stroke="#000" stroke-width="0.9" />
<path d="M594.00,406.50 L603.00,406.50 L600.00,405.00" stroke="#000" stroke-width="0.9" fill="none" />
<text x="562.5" y="444.8" font-size="14.17" textLength="70.5" lengthAdjust="spacingAndGlyphs" fill="#000" font-weight="bold" stroke="#000" stroke-width="0.5">MASTER BEDROOM</text>
<text x="573.6" y="457" font-size="8.75" textLength="39.9" lengthAdjust="spacingAndGlyphs" fill="#111" stroke="#111" stroke-width="0.12">12<tspan dy="-1.7">'</tspan><tspan dy="1.7">-</tspan>1<tspan dy="-1.7">&quot;</tspan><tspan dy="1.7"> </tspan>X 14<tspan dy="-1.7">'</tspan><tspan dy="1.7">-</tspan>6<tspan dy="-1.7">&quot;</tspan></text>
<text x="479.4" y="615.4" font-size="20.00" textLength="122.6" lengthAdjust="spacingAndGlyphs" fill="#000" stroke="#000" stroke-width="0.3">SECOND FLOOR PLAN</text>
<line x1="478.50" y1="619.50" x2="550.00" y2="619.50" stroke="#444" stroke-width="0.9" />
<line x1="550.00" y1="619.50" x2="605.00" y2="619.50" stroke="#111" stroke-width="1.2" />
<rect x="681" y="1.5" width="1.5" height="1.5" fill="#333"/>
<text x="0" y="0" font-size="21" fill="#000" textLength="238.7" lengthAdjust="spacingAndGlyphs" transform="translate(272.9,376.3) rotate(-45)">www.homesbymarco.com</text>
</svg>
</body></html>
